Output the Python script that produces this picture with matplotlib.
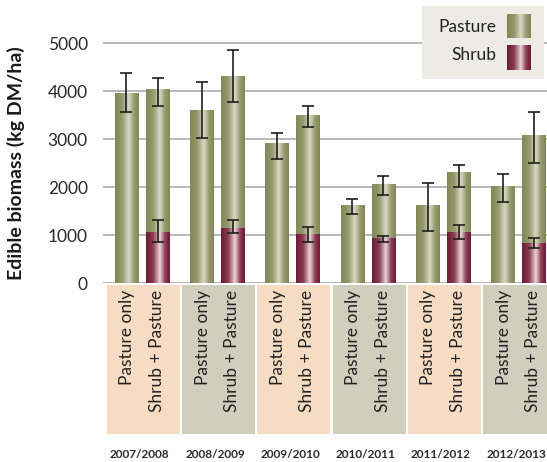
import numpy as np
import matplotlib
matplotlib.use("Agg")
import matplotlib.pyplot as plt
from matplotlib.colors import LinearSegmentedColormap

plt.rcParams['font.family'] = ['Lato', 'DejaVu Sans']

# data (kg DM/ha)
years = ["2007/2008", "2008/2009", "2009/2010", "2010/2011", "2011/2012", "2012/2013"]
treatments = ["Pasture only", "Shrub + Pasture"]

pasture_only = [3950, 3600, 2900, 1620, 1620, 2020]
pasture_only_lo = [390, 580, 310, 190, 540, 330]
pasture_only_hi = [420, 580, 220, 120, 470, 260]

sp_shrub = [1060, 1150, 1020, 940, 1060, 830]
sp_shrub_lo = [215, 110, 165, 90, 150, 110]
sp_shrub_hi = [245, 160, 145, 40, 145, 110]

sp_pasture = [2960, 3160, 2460, 1120, 1230, 2250]
sp_total_lo = [330, 530, 230, 230, 285, 590]
sp_total_hi = [250, 540, 215, 175, 165, 480]

yticks = [0, 1000, 2000, 3000, 4000, 5000]

pasture_cmap = LinearSegmentedColormap.from_list(
    "pasture", [(0, '#828757'), (0.3, '#959a6d'), (0.58, '#d9d8c4'), (0.8, '#979b70'), (1, '#828757')])
shrub_cmap = LinearSegmentedColormap.from_list(
    "shrub", [(0, '#6c1b33'), (0.3, '#8a3d55'), (0.58, '#ead3d5'), (0.8, '#8c4058'), (1, '#6c1b33')])
grad = np.linspace(0, 1, 64).reshape(1, -1)


def shade(ax, bars, cmap):
    # paint each bar with a horizontal gradient
    for b in bars:
        x0, y0, w, h = b.get_x(), b.get_y(), b.get_width(), b.get_height()
        ax.imshow(grad, cmap=cmap, extent=(x0, x0 + w, y0, y0 + h),
                  aspect='auto', zorder=2, interpolation='bilinear')


W, H = 547, 462
fig = plt.figure(figsize=(W / 100, H / 100), dpi=100)
ax = fig.add_axes([103 / W, (H - 283) / H, 444 / W, 277 / H])

x = np.arange(len(years))
off = 0.206
bw = 0.31
txt = '#222222'

b1 = ax.bar(x - off, pasture_only, bw, color='none', zorder=2)
b2 = ax.bar(x + off, sp_shrub, bw, color='none', zorder=2)
b3 = ax.bar(x + off, sp_pasture, bw, bottom=sp_shrub, color='none', zorder=2)
shade(ax, b1, pasture_cmap)
shade(ax, b2, shrub_cmap)
shade(ax, b3, pasture_cmap)

sp_total = np.array(sp_shrub) + np.array(sp_pasture)
ekw = dict(fmt='none', ecolor='#1e1e1e', elinewidth=1.2, capsize=4, capthick=1.2, zorder=4)
ax.errorbar(x - off, pasture_only, yerr=[pasture_only_lo, pasture_only_hi], **ekw)
ax.errorbar(x + off, sp_total, yerr=[sp_total_lo, sp_total_hi], **ekw)
ax.errorbar(x + off, sp_shrub, yerr=[sp_shrub_lo, sp_shrub_hi], **ekw)

ax.set_xlim(-0.518, 5.378)
ax.set_ylim(0, 5771)
ax.set_yticks(yticks)
ax.set_yticklabels([str(v) for v in yticks], fontsize=12.5, color='#2a2a2a')
ax.tick_params(axis='y', length=0, pad=11)
ax.set_xticks([])
ax.yaxis.grid(True, color='#b2b2b2', linewidth=1.3)
ax.set_axisbelow(True)
for s in ax.spines.values():
    s.set_visible(False)
ax.set_ylabel("Edible biomass (kg DM/ha)", fontsize=14, fontweight='bold', color='#1a1a1a')
ax.yaxis.set_label_coords(-0.175, 0.433)

# treatment bands under the axis
bax = fig.add_axes([103 / W, (H - 434) / H, 444 / W, 149 / H], sharex=ax)
bax.set_ylim(0, 1)
band_colors = ['#f5dcc3', '#d0cfbd']
for i, yr in enumerate(years):
    bax.bar(i + 0.017, 1, 0.972, color=band_colors[i % 2], zorder=1)
    bax.text(i - off + 0.01, 0.965, treatments[0], rotation=90, ha='center', va='top',
             fontsize=12.5, color=txt)
    bax.text(i + off - 0.01, 0.965, treatments[1], rotation=90, ha='center', va='top',
             fontsize=12.5, color=txt)
    bax.text(i - 0.03, -0.135, yr, ha='center', va='center', fontsize=8.5,
             fontweight='bold', color='#2a2a2a', clip_on=False)
bax.set_xlim(-0.518, 5.378)
bax.set_xticks([])
bax.set_yticks([])
for s in bax.spines.values():
    s.set_visible(False)
bax.patch.set_alpha(0)

# legend box
lax = fig.add_axes([422 / W, (H - 79) / H, 122 / W, 73 / H])
lax.set_facecolor('#ecebe4')
lax.set_xlim(0, 1)
lax.set_ylim(0, 1)
lax.set_xticks([])
lax.set_yticks([])
for s in lax.spines.values():
    s.set_visible(False)
lax.imshow(grad, cmap=pasture_cmap, extent=(0.697, 0.891, 0.566, 0.89), aspect='auto')
lax.imshow(grad, cmap=shrub_cmap, extent=(0.697, 0.891, 0.123, 0.452), aspect='auto')
lax.text(0.607, 0.716, "Pasture", ha='right', va='center', fontsize=12.5, color=txt)
lax.text(0.607, 0.33, "Shrub", ha='right', va='center', fontsize=12.5, color=txt)
lax.set_xlim(0, 1)
lax.set_ylim(0, 1)

fig.savefig("out.png", dpi=100)
